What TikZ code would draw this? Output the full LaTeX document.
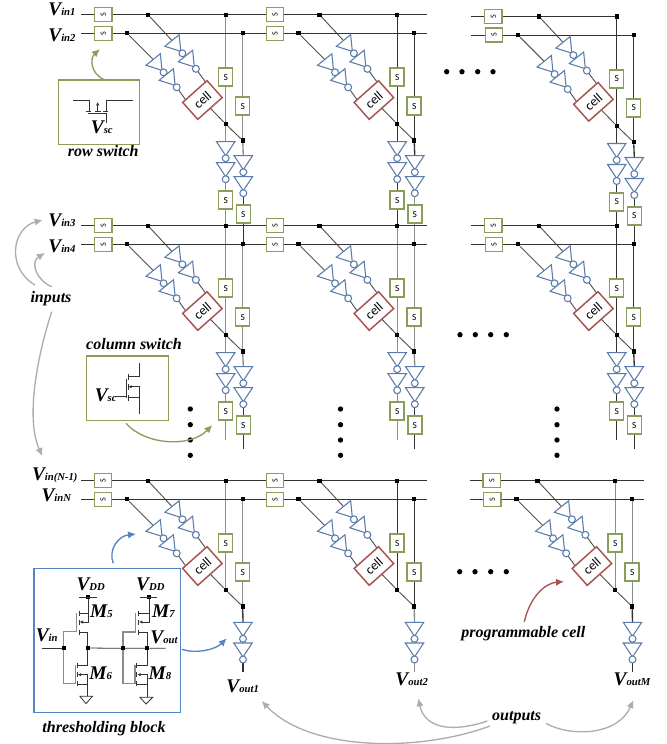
\documentclass[tikz,border=0pt]{standalone}
\usepackage{fontspec}
\setmainfont{Liberation Serif}
\newfontfamily\cellfont{Carlito}
\usetikzlibrary{arrows.meta}
\pgfdeclarelayer{wires}
\pgfsetlayers{wires,main}
\definecolor{swgreen}{HTML}{8A9E5C}
\definecolor{invblue}{HTML}{5B7CAB}
\definecolor{boxblue}{HTML}{5585C0}
\definecolor{cellred}{HTML}{A8534F}
\definecolor{arrgray}{HTML}{ADADAD}
\definecolor{wiregray}{HTML}{8C8C8C}
\definecolor{wiredark}{HTML}{333333}
\tikzset{
  every node/.style={inner sep=0pt,outer sep=0pt},
  wire/.style={line width=.75pt,draw=wiredark},
  diagw/.style={line width=.7pt,draw=wiredark!85},
  colw/.style={line width=1pt,draw=#1},
  junc/.style={rectangle,fill=black,minimum size=3.2pt},
  rowsw/.style={rectangle,draw=swgreen,fill=white,line width=1.1pt,minimum width=13pt,minimum height=10.5pt},
  colsw/.style={rectangle,draw=swgreen,fill=white,line width=1.1pt,minimum width=10.5pt,minimum height=13.5pt},
  cellbox/.style={rectangle,draw=cellred,fill=white,line width=1.1pt,minimum width=24.5pt,minimum height=17pt,rotate=41.7},
  invline/.style={draw=invblue,line width=.8pt,fill=white},
  invbub/.style={circle,draw=invblue,fill=white,line width=.8pt,minimum size=5.2pt},
  sym/.style={font=\fontsize{14.5}{15}\selectfont\bfseries\itshape},
  captext/.style={font=\fontsize{12}{14}\selectfont\bfseries\itshape},
  dotm/.style={circle,fill=black,minimum size=4pt},
  callout/.style={line width=1pt,-{Latex[length=6pt,width=5.5pt]}},
  tr/.style={line width=.6pt,draw=wiredark},
}
\newcommand{\vsub}[2]{#1{\fontsize{8}{9}\selectfont #2}}
\newcommand{\invgate}[4]{%
  \begin{scope}[shift={(#2,#3)},rotate=#4]
    \coordinate (#1-in) at (0,0);
    \draw[invline] (0,9.2)--(14,0)--(0,-9.2)--cycle;
    \node[invbub] (#1-out) at (16.5,0) {};
  \end{scope}}
\newcommand{\rowswitch}[3]{\node[rowsw] (#1) at (#2,#3) {\rotatebox{90}{\cellfont\fontsize{6}{6}\selectfont S}};}
\newcommand{\colswitch}[3]{\node[colsw] (#1) at (#2,#3) {\cellfont\fontsize{7}{7}\selectfont S};}
% upper part of a tile: name, dx, dy, upper column colour
\newcommand{\tilecore}[4]{%
  \begin{scope}[shift={(#2,#3)}]
    \node[junc] (#1-ja) at (148,14.7) {};
    \node[junc] (#1-jb) at (127,33.3) {};
    \node[junc] (#1-c1) at (225.7,14.7) {};
    \node[junc] (#1-c2) at (242.7,33.3) {};
    \node[junc] (#1-c3) at (225.7,124) {};
    \node[junc] (#1-c4) at (242.7,140.5) {};
    \invgate{#1-a1}{172}{40.5}{-51}
    \invgate{#1-a2}{185.5}{56}{-51}
    \invgate{#1-b1}{153.2}{59.5}{-51}
    \invgate{#1-b2}{166.3}{74.5}{-51}
    \node[cellbox] (#1-cell) at (202.4,100) {\cellfont\fontsize{10}{10}\selectfont cell};
    \colswitch{#1-s1}{225.7}{77}
    \colswitch{#1-s2}{242.7}{106}
    \coordinate (#1-ca) at (207,84);
    \coordinate (#1-cb) at (190,106);
    \begin{pgfonlayer}{wires}
      \draw[diagw] (#1-ja) -- (#1-a1-in);
      \draw[diagw] (#1-a2-out) -- (#1-ca);
      \draw[diagw] (#1-jb) -- (#1-b1-in);
      \draw[diagw] (#1-b2-out) -- (#1-cb);
      \draw[diagw] (#1-cell.center) -- (#1-c3);
      \draw[diagw] (#1-c3) -- (#1-c4);
      \draw[colw=#4] (#1-c1) -- (#1-c3);
      \draw[colw=#4] (#1-c2) -- (#1-c4);
    \end{pgfonlayer}
  \end{scope}}
% lower part of a full tile: name, dx, dy, col colour, lower colour, end1, end2
\newcommand{\tilelow}[7]{%
  \begin{scope}[shift={(#2,#3)}]
    \invgate{#1-d1}{225.7}{141.7}{-90}
    \invgate{#1-d2}{225.7}{162.7}{-90}
    \invgate{#1-e1}{243.3}{155.7}{-90}
    \invgate{#1-e2}{243.3}{176.7}{-90}
    \colswitch{#1-s3}{225.7}{200}
    \colswitch{#1-s4}{243.3}{214}
    \coordinate (#1-end1) at (225.7,#6);
    \coordinate (#1-end2) at (243.3,#7);
    \begin{pgfonlayer}{wires}
      \draw[colw=#4] (#1-c3) -- (#1-d1-in);
      \draw[colw=#4] (#1-d2-out) -- (#1-s3);
      \draw[colw=#4] (#1-s3) -- (#1-end1);
      \draw[colw=#4] (#1-c4) -- (#1-e1-in);
      \draw[colw=#5] (#1-e2-out) -- (#1-s4);
      \draw[colw=#5] (#1-s4) -- (#1-end2);
    \end{pgfonlayer}
  \end{scope}}
% lower part of a bottom tile: name, dx, colour
\newcommand{\tileout}[3]{%
  \begin{scope}[shift={(#2,466)}]
    \invgate{#1-e1}{243}{156.3}{-90}
    \invgate{#1-e2}{243}{177}{-90}
    \coordinate (#1-end) at (243,205.5);
    \begin{pgfonlayer}{wires}
      \draw[colw=#3] (#1-c4) -- (#1-e1-in);
      \draw[colw=#3] (#1-e2-out) -- (#1-end);
    \end{pgfonlayer}
  \end{scope}}
\newcommand{\rowwire}[4]{% name x0 x1 y, helper
  \coordinate (#1) at (#2,#4); \coordinate (#1e) at (#3,#4);
  \begin{pgfonlayer}{wires}\draw[wire] (#1) -- (#1e);\end{pgfonlayer}}

\begin{document}
\begin{tikzpicture}[x=.75pt,y=-.75pt]
\useasboundingbox (0,0) rectangle (667,744);
\begin{pgfonlayer}{wires}
\fill[white] (0,0) rectangle (667,744);
\end{pgfonlayer}

% --- tiles
\tilecore{A1}{0}{0}{wiregray}     \tilelow{A1}{0}{0}{wiregray}{wiredark}{225.5}{244.3}
\tilecore{B1}{171.5}{0}{wiredark} \tilelow{B1}{171.5}{0}{wiredark}{wiregray}{225.5}{244.3}
\tilecore{C1}{391}{1.8}{wiredark} \tilelow{C1}{391}{1.8}{wiredark}{wiredark}{223.7}{242.5}
\tilecore{A2}{0}{211}{wiregray}     \tilelow{A2}{0}{211}{wiregray}{wiredark}{229}{238}
\tilecore{B2}{171.5}{211}{wiregray} \tilelow{B2}{171.5}{211}{wiregray}{wiredark}{229}{238}
\tilecore{C2}{391}{211}{wiredark}   \tilelow{C2}{391}{211}{wiredark}{wiredark}{229}{238}
\tilecore{A3}{0}{466}{wiregray}   \tileout{A3}{0}{wiredark}
\tilecore{B3}{171.5}{466}{wiredark} \tileout{B3}{171.5}{wiregray}
\tilecore{C3}{389.5}{466}{wiregray} \tileout{C3}{389.5}{wiredark}

% --- row switches and row wires
\rowswitch{r1a}{103.3}{14.7}\rowswitch{r1b}{275}{14.7}\rowswitch{r1c}{493.3}{16.5}
\rowswitch{r2a}{103.3}{33.3}\rowswitch{r2b}{275}{33.3}\rowswitch{r2c}{494}{35.1}
\rowswitch{r3a}{103.3}{225.7}\rowswitch{r3b}{275}{225.7}\rowswitch{r3c}{493.3}{225.7}
\rowswitch{r4a}{103.3}{244.3}\rowswitch{r4b}{275}{244.3}\rowswitch{r4c}{494}{244.3}
\rowswitch{r5a}{103}{480.7}\rowswitch{r5b}{275}{480.7}\rowswitch{r5c}{491.7}{480.7}
\rowswitch{r6a}{103}{499.3}\rowswitch{r6b}{275}{499.3}\rowswitch{r6c}{492.3}{499.3}
\rowwire{w1}{81}{427}{14.7}
\rowwire{w2}{81}{427}{33.3}
\rowwire{w3}{81}{427}{225.7}
\rowwire{w4}{81}{427}{244.3}
\rowwire{w5}{81}{427}{480.7}
\rowwire{w6}{81}{427}{499.3}
\rowwire{x1}{471}{616.7}{16.5}
\rowwire{x2}{471}{633.7}{35.1}
\rowwire{x3}{471}{616.7}{225.7}
\rowwire{x4}{471}{633.7}{244.3}
\rowwire{x5}{470}{644}{480.7}
\rowwire{x6}{470}{644}{499.3}

% --- ellipses
\foreach \i/\x/\y in {a/446.7/71.7,b/462/71.7,c/477.7/71.7,d/493/71.7,
  e/460/334.7,f/475.3/334.7,g/490.7/334.7,h/506.3/334.7,
  i/459.7/571.7,j/475/571.7,k/490.7/571.7,l/506.3/571.7,
  m/190.3/409,n/190.3/424.7,o/190.3/440,p/190.3/455.3,
  q/340.5/409,r/340.5/424.7,s/340.5/440,t/340.5/455.3,
  u/557/409,v/557/424.7,w/557/440,z/557/455.3}
  {\node[dotm] (dot\i) at (\x,\y) {};}

% --- labels
\node[sym,anchor=base east] (lv1) at (75.5,15) {\vsub{V}{in1}};
\node[sym,anchor=base east] (lv2) at (75.5,41.7) {\vsub{V}{in2}};
\node[sym,anchor=base east] (lv3) at (75.5,226) {\vsub{V}{in3}};
\node[sym,anchor=base east] (lv4) at (75.5,252.3) {\vsub{V}{in4}};
\node[sym,anchor=base east] (lv5) at (77.5,480) {\vsub{V}{in(N-1)}};
\node[sym,anchor=base east] (lv6) at (71,501.7) {\vsub{V}{inN}};
\node[sym,anchor=base] (lo1) at (242.7,692) {\vsub{V}{out1}};
\node[sym,anchor=base] (lo2) at (411.7,685) {\vsub{V}{out2}};
\node[sym,anchor=base] (lo3) at (632,685) {\vsub{V}{outM}};
\node[captext] (tinp) at (51,298.7) {inputs};
\node[captext] (tout) at (516.7,718) {outputs};
\node[captext] (trow) at (103.3,151) {row switch};
\node[captext] (tcol) at (134,344) {column switch};
\node[captext] (tthr) at (104,728.3) {thresholding block};
\node[captext] (tprg) at (523.3,633.3) {programmable cell};

% --- row switch detail
\node[rectangle,draw=swgreen,line width=1.1pt,minimum width=60.7pt,minimum height=48.2pt] (rbox) at (98.8,112.2) {};
\node[sym,anchor=base] (rvsc) at (101.8,133.3) {\vsub{V}{sc}};
\draw[tr] (73.3,100.7) -- (89.3,100.7) -- (89.3,111.7);
\draw[tr] (132.7,100.7) -- (106.7,100.7) -- (106.7,111.7);
\draw[tr] (86,111.7) -- (90.7,111.7);
\draw[tr] (103,111.7) -- (108,111.7);
\draw[tr] (95,111.7) -- (100.5,111.7);
\draw[tr,-{Latex[length=2.5pt,width=2.5pt]}] (97.7,111.7) -- (97.7,102);
\draw[tr] (88.3,113.7) -- (107.3,113.7);
\draw[tr] (106.7,113.7) -- (106.7,123.3);

% --- column switch detail
\node[rectangle,draw=swgreen,line width=1.1pt,minimum width=61.5pt,minimum height=48.2pt] (cbox) at (127.7,388.2) {};
\node[sym,anchor=base] (cvsc) at (105.7,401.7) {\vsub{V}{sc}};
\draw[tr] (116,396.3) -- (126,396.3);
\draw[tr] (126,379) -- (126,398);
\draw[tr] (128.3,374) -- (128.3,379.5);
\draw[tr] (128.3,384) -- (128.3,389.5);
\draw[tr] (128.3,395) -- (128.3,400.5);
\draw[tr] (128.3,376.7) -- (139,376.7) -- (139,363);
\draw[tr] (128.3,397.7) -- (139,397.7) -- (139,414);
\draw[tr,{Latex[length=2.5pt,width=2.5pt]}-] (128.3,386.7) -- (139,386.7) -- (139,397.7);

% --- thresholding block
\node[rectangle,draw=boxblue,line width=1.2pt,minimum width=110pt,minimum height=108pt] (tbox) at (107.3,640.3) {};
\begin{scope}[shift={(34,568)},x=.25pt,y=-.25pt]
  \node[junc] (vd1) at (162,88) {};
  \node[junc] (vd2) at (345,88) {};
  \node[junc] (nin) at (89,240) {};
  \node[junc] (nmid) at (161,240) {};
  \node[junc] (ngate) at (267,241) {};
  \node[junc] (nout) at (340,241) {};
  \coordinate (lin) at (25,240);
  \coordinate (lout) at (395,241);
  \draw[tr] (135,88) -- (188,88);
  \draw[tr] (318,88) -- (370,88);
  \draw[tr] (lin) -- (nin);
  \draw[tr] (nmid) -- (ngate) -- (nout) -- (lout);
  % M5
  \draw[tr] (vd1) -- (162,137) -- (135,137);
  \draw[tr,line width=.8pt,wiregray] (nin) -- (89,191) -- (128,191) -- (128,135);
  \foreach \yy in {130,155,185} \draw[tr] (135,\yy) -- (135,\yy+15);
  \draw[tr,-{Latex[length=2.5pt,width=2.5pt]}] (162,137) -- (162,162) -- (137,162);
  \draw[tr] (135,193) -- (161,193) -- (nmid);
  % M6
  \draw[tr,line width=.8pt,wiregray] (nin) -- (89,347) -- (125,347) -- (125,290);
  \foreach \yy in {286,312,340} \draw[tr] (129,\yy) -- (129,\yy+15);
  \draw[tr] (nmid) -- (161,293) -- (129,293);
  \draw[tr,{Latex[length=2.5pt,width=2.5pt]}-] (131,320) -- (161,320) -- (161,349);
  \draw[tr] (129,349) -- (161,349) -- (161,385);
  \draw[tr] (138,385) -- (175,385) -- (156,407) -- cycle;
  % M7
  \draw[tr] (vd2) -- (345,137) -- (313,137);
  \draw[tr,line width=.8pt,wiregray] (ngate) -- (267,192) -- (305,192) -- (305,135);
  \foreach \yy in {130,155,185} \draw[tr] (313,\yy) -- (313,\yy+15);
  \draw[tr,{Latex[length=2.5pt,width=2.5pt]}-] (315,162) -- (345,162) -- (345,137);
  \draw[tr] (313,193) -- (340,193) -- (nout);
  % M8
  \draw[tr,line width=.8pt,wiregray] (ngate) -- (267,346) -- (303,346) -- (303,290);
  \foreach \yy in {286,312,340} \draw[tr] (308,\yy) -- (308,\yy+15);
  \draw[tr] (nout) -- (340,292) -- (308,292);
  \draw[tr,{Latex[length=2.5pt,width=2.5pt]}-] (310,320) -- (340,320) -- (340,348);
  \draw[tr] (308,348) -- (340,348) -- (340,388);
  \draw[tr] (318,388) -- (356,388) -- (336,408) -- cycle;
  % labels
  \node[sym,anchor=base] (lvd1) at (170,68) {\vsub{V}{DD}};
  \node[sym,anchor=base] (lvd2) at (349,68) {\vsub{V}{DD}};
  \node[sym,anchor=base] (lvin) at (38,220) {\vsub{V}{in}};
  \node[sym,anchor=base] (lvout) at (390,225) {\vsub{V}{out}};
  \node[sym,anchor=base] (lm5) at (202,147) {\vsub{M}{5}};
  \node[sym,anchor=base] (lm6) at (200,333) {\vsub{M}{6}};
  \node[sym,anchor=base] (lm7) at (388,147) {\vsub{M}{7}};
  \node[sym,anchor=base] (lm8) at (378,335) {\vsub{M}{8}};
\end{scope}

% --- callout arrows
\draw[callout,arrgray] (35,285) .. controls (6,268) and (12,228) .. (42.7,220);
\draw[callout,arrgray] (51.7,286.7) .. controls (36,280) and (30,262) .. (45,253);
\draw[callout,arrgray] (51.7,311.7) .. controls (36,360) and (26,420) .. (42.3,456);
\draw[callout,arrgray] (546,723.3) .. controls (570,737) and (618,736) .. (633.3,700);
\draw[callout,arrgray] (490,726) .. controls (420,752) and (310,752) .. (261.7,701);
\draw[callout,arrgray] (487.3,721) .. controls (455,732) and (425,730) .. (418.3,698.3);
\draw[callout,swgreen] (105,80) .. controls (90,74) and (90,58) .. (100,49);
\draw[callout,swgreen] (126,423.3) .. controls (145,445) and (190,448) .. (212.3,425);
\draw[callout,boxblue] (113.3,563.3) .. controls (108,550) and (118,536) .. (136,534);
\draw[callout,boxblue] (181.7,649.3) .. controls (195,654) and (215,650) .. (226.7,638.3);
\draw[callout,cellred] (524.3,621.7) .. controls (530,597) and (545,583) .. (564,581.7);
\end{tikzpicture}
\end{document}
